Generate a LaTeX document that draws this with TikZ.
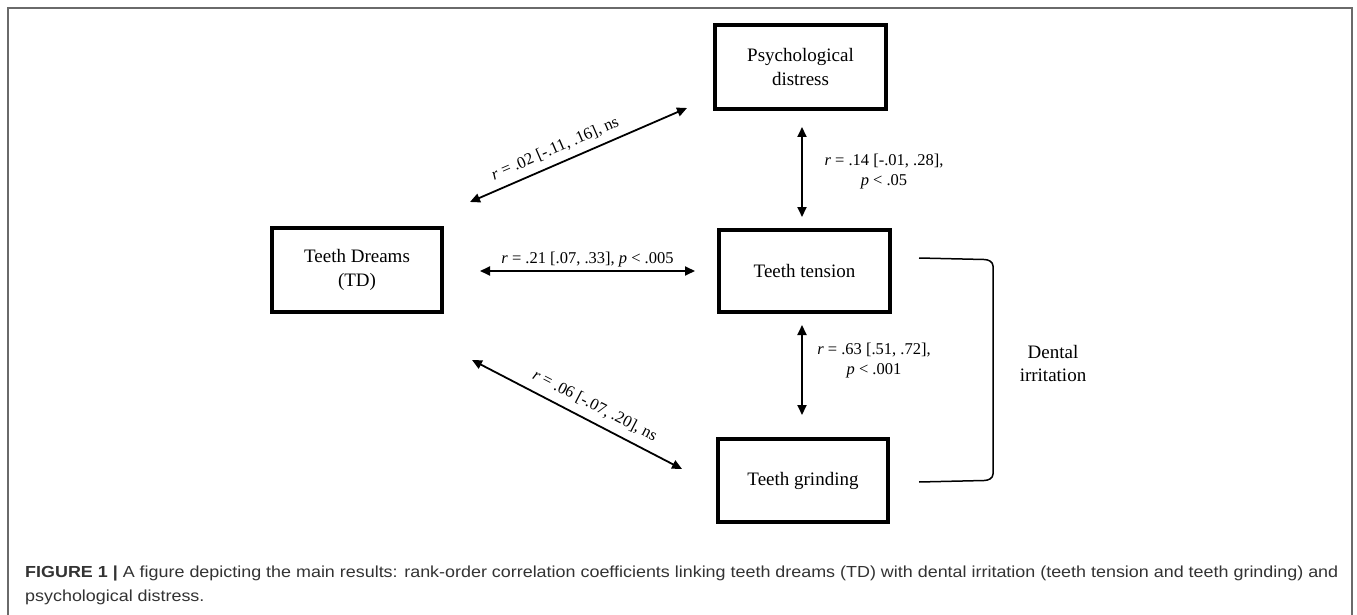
\documentclass[tikz,border=0pt]{standalone}
\usepackage{fontspec}
\setmainfont{Liberation Serif}
\newfontfamily\capfont{Liberation Sans}
\usetikzlibrary{arrows.meta}
\definecolor{framegray}{HTML}{6A6A6A}
\definecolor{captext}{HTML}{333333}
\tikzset{
  varbox/.style={draw, line width=3.2pt, minimum width=#1, inner sep=0pt, align=center, font=\fontsize{19}{24}\selectfont},
  varbox/.default=170pt,
  corr/.style={line width=1.8pt, {Triangle[length=10pt,width=9pt]}-{Triangle[length=10pt,width=9pt]}},
  lab/.style={font=\fontsize{16.5}{20}\selectfont, align=center, inner sep=2pt},
  captxt/.style={font=\capfont\fontsize{16}{19}\selectfont, text=captext, inner sep=0pt}
}
\begin{document}
\begin{tikzpicture}[x=1pt,y=-1pt]
\useasboundingbox (0,0) rectangle (1357,615);
\fill[white] (0,0) rectangle (1357,615);
% outer frame
\draw[framegray, line width=1.3pt] (8,640) -- (8,8) -- (1352,8) -- (1352,640);

% boxes
\node[varbox=170pt, minimum height=84pt] (td) at (357,270) {Teeth Dreams\\(TD)};
\node[varbox=171pt, minimum height=84pt] (psy) at (800.5,67) {Psychological\\distress};
\node[varbox=171pt, minimum height=82pt] (ten) at (804.5,271) {Teeth tension};
\node[varbox=170pt, minimum height=83pt] (gri) at (803,480.5) {Teeth grinding};

% arrow end points
\coordinate (a1) at (470,202);
\coordinate (a2) at (687,108);
\coordinate (b1) at (480,271);
\coordinate (b2) at (695,271);
\coordinate (c1) at (472,360);
\coordinate (c2) at (682,469);
\coordinate (d1) at (802,127);
\coordinate (d2) at (802,217);
\coordinate (e1) at (802,325);
\coordinate (e2) at (802,415);

\draw[corr] (a1) -- node[lab, sloped, above, pos=0.42, yshift=5pt] {\textit{r} = .02 [-.11, .16], ns} (a2);
\draw[corr] (b1) -- node[lab, above, yshift=1pt] {\textit{r} = .21 [.07, .33], \textit{p} < .005} (b2);
\draw[corr] (c1) -- node[lab, sloped, above, pos=0.55, yshift=6pt] {\textit{r} = .06 [-.07, .20], ns} (c2);
\draw[corr] (d1) -- (d2);
\draw[corr] (e1) -- (e2);

\node[lab] (l14) at (884,172) {\textit{r} = .14 [-.01, .28],\\\textit{p} < .05};
\node[lab] (l63) at (874,361) {\textit{r} = .63 [.51, .72],\\\textit{p} < .001};

% bracket
\coordinate (bt) at (919,258);
\coordinate (bb) at (919,482);
\draw[line width=1.5pt] (bt) -- (984,259.5) to[out=0,in=90] (993,266) -- (993,474) to[out=-90,in=0] (984,480.5) -- (bb);
\node[align=center, font=\fontsize{19}{23}\selectfont, inner sep=0pt] (dent) at (1053,363) {Dental\\irritation};

% caption
\node[captxt, anchor=base west] (cap1) at (25,577) {\scalebox{1.12}[1]{\textbf{FIGURE 1 |} A figure depicting the main results: rank-order correlation coefficients linking teeth dreams (TD) with dental irritation (teeth tension and teeth grinding) and}};
\node[captxt, anchor=base west] (cap2) at (25,601) {\scalebox{1.12}[1]{psychological distress.}};
\end{tikzpicture}
\end{document}
